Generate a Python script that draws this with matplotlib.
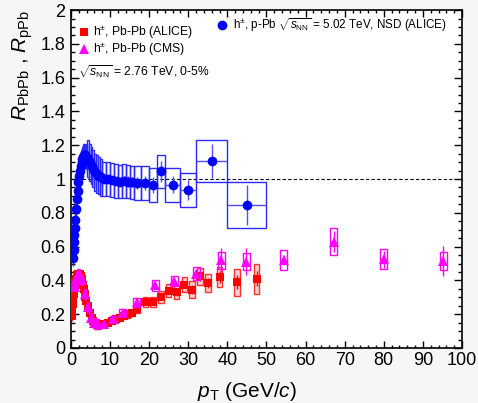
import numpy as np
import matplotlib
matplotlib.use('Agg')
import matplotlib.pyplot as plt
from matplotlib.patches import Rectangle
from matplotlib.ticker import MultipleLocator

plt.rcParams['font.family'] = ['Liberation Sans', 'DejaVu Sans']
plt.rcParams['mathtext.fontset'] = 'custom'
plt.rcParams['mathtext.rm'] = 'Liberation Sans'
plt.rcParams['mathtext.it'] = 'Liberation Sans:italic'
plt.rcParams['mathtext.bf'] = 'Liberation Sans:bold'

# p-Pb, ALICE (NSD)
ppb_lo = [0.5, 0.6, 0.7, 0.8, 0.9, 1.0, 1.2, 1.4, 1.6, 1.8, 2.0, 2.2, 2.4, 2.6, 2.8, 3.0, 3.2, 3.4, 3.6, 3.8,
          4.0, 4.5, 5.0, 5.5, 6.0, 6.5, 7.0, 7.5, 8, 9, 10, 11, 12, 13, 14, 15, 16, 18, 20, 22, 24, 28, 32, 40]
ppb_hi = [0.6, 0.7, 0.8, 0.9, 1.0, 1.2, 1.4, 1.6, 1.8, 2.0, 2.2, 2.4, 2.6, 2.8, 3.0, 3.2, 3.4, 3.6, 3.8, 4.0,
          4.5, 5.0, 5.5, 6.0, 6.5, 7.0, 7.5, 8.0, 9, 10, 11, 12, 13, 14, 15, 16, 18, 20, 22, 24, 28, 32, 40, 50]
ppb_r = [0.53, 0.58, 0.63, 0.67, 0.71, 0.76, 0.82, 0.88, 0.93, 0.98, 1.02, 1.05, 1.08, 1.10, 1.12, 1.13, 1.14,
         1.14, 1.14, 1.13, 1.12, 1.10, 1.08, 1.06, 1.04, 1.03, 1.02, 1.01, 1.00, 1.00, 0.995, 0.99, 0.985,
         0.99, 0.985, 0.98, 0.975, 0.975, 0.965, 1.045, 0.965, 0.935, 1.107, 0.846]
ppb_stat = [0.005] * 20 + [0.01] * 8 + [0.015, 0.015, 0.02, 0.02, 0.025, 0.025, 0.03, 0.03,
                                       0.035, 0.04, 0.045, 0.06, 0.05, 0.06, 0.10, 0.12]
ppb_sys = [0.045] * 5 + [0.07] * 15 + [0.11] * 8 + [0.10] * 12 + [0.10, 0.10, 0.125, 0.135]

# Pb-Pb 0-5%, ALICE
pbpb_pt = [0.175, 0.225, 0.275, 0.325, 0.375, 0.425, 0.475, 0.525, 0.575, 0.625, 0.675, 0.725, 0.775,
           0.825, 0.875, 0.925, 0.975, 1.05, 1.15, 1.25, 1.35, 1.45, 1.55, 1.65, 1.75, 1.85, 1.95, 2.1,
           2.3, 2.5, 2.7, 2.9, 3.1, 3.3, 3.5, 3.7, 3.9, 4.25, 4.75, 5.25, 5.75, 6.25, 6.75, 7.5, 8.5,
           9.5, 10.5, 11.5, 12.5, 13.5, 14.5, 15.5, 17, 19, 21, 23, 25, 27, 29, 31, 33, 35, 38, 42.5, 47.5]
pbpb_r = [0.19, 0.21, 0.22, 0.24, 0.25, 0.26, 0.28, 0.29, 0.30, 0.31, 0.32, 0.33, 0.34, 0.35, 0.355,
          0.36, 0.37, 0.38, 0.39, 0.40, 0.41, 0.42, 0.425, 0.43, 0.435, 0.437, 0.44, 0.44, 0.435, 0.425,
          0.41, 0.39, 0.37, 0.35, 0.32, 0.30, 0.28, 0.25, 0.21, 0.18, 0.16, 0.145, 0.14, 0.135, 0.14,
          0.15, 0.16, 0.17, 0.18, 0.19, 0.20, 0.21, 0.23, 0.27, 0.27, 0.30, 0.34, 0.33, 0.375, 0.345,
          0.425, 0.385, 0.42, 0.39, 0.41]
pbpb_stat = [0.003] * 43 + [0.005] * 9 + [0.008, 0.01, 0.012, 0.015, 0.018, 0.02, 0.02, 0.025,
                                         0.03, 0.03, 0.035, 0.04, 0.045]
pbpb_sys = [0.03] * 43 + [0.02] * 9 + [0.025, 0.03, 0.03, 0.035, 0.04, 0.04, 0.045, 0.05,
                                      0.05, 0.055, 0.06, 0.08, 0.09]

# Pb-Pb 0-5%, CMS
cms_pt = [1.05, 1.15, 1.3, 1.5, 1.7, 1.9, 2.1, 2.3, 2.8, 3.6, 4.4, 5.2, 6.0, 6.8, 8.4, 10.8, 13.2,
          16.8, 21.6, 26.4, 32.0, 38.4, 44.8, 54.4, 67.2, 80.0, 95.2]
cms_r = [0.36, 0.38, 0.40, 0.42, 0.43, 0.44, 0.44, 0.43, 0.40, 0.32, 0.24, 0.18, 0.15, 0.14, 0.14,
         0.17, 0.21, 0.27, 0.37, 0.395, 0.44, 0.52, 0.51, 0.52, 0.63, 0.525, 0.515]
cms_stat = [0.003] * 14 + [0.005, 0.006, 0.008, 0.01, 0.015, 0.02, 0.03, 0.07, 0.08, 0.03, 0.06,
                           0.05, 0.09]
cms_sys = [0.03] * 14 + [0.015, 0.017, 0.02, 0.025, 0.035, 0.03, 0.04, 0.05, 0.05, 0.06, 0.08,
                         0.06, 0.055]

BLUE, RED, MAG = '#0000ff', '#ff0000', '#ff00ff'

fig = plt.figure(figsize=(4.78, 4.03), dpi=100, facecolor='#f6f6f6')
ax = fig.add_axes([0.1485, 0.1365, 0.8180, 0.8385])
ax.set_facecolor('white')

ax.axhline(1.0, color='black', ls=(0, (3, 2)), lw=0.8, zorder=1)


def sys_boxes(x, y, half, sys, color, fill=None, z=2):
    for xi, yi, hw, s in zip(x, y, half, sys):
        ax.add_patch(Rectangle((xi - hw, yi - s), 2 * hw, 2 * s, fill=fill is not None,
                               facecolor=fill if fill else 'none', edgecolor=color,
                               lw=1.0, zorder=z))


# ALICE Pb-Pb
pbpb_half = [0.025 if p < 1 else 0.05 if p < 2 else 0.1 if p < 4 else 0.25 if p < 8 else 0.5 if p < 16 else 0.7
             for p in pbpb_pt]
sys_boxes(pbpb_pt, pbpb_r, pbpb_half, pbpb_sys, '#ff3030', fill='#ffd0d0', z=2)
ax.errorbar(pbpb_pt, pbpb_r, yerr=pbpb_stat, fmt='s', color=RED, ms=5.5, mew=0,
            elinewidth=1, capsize=1.5, zorder=3)

# CMS Pb-Pb
cms_half = [0.05 if p < 2.4 else 0.3 if p < 9 else 0.9 for p in cms_pt]
sys_boxes(cms_pt, cms_r, cms_half, cms_sys, MAG, z=4)
ax.errorbar(cms_pt, cms_r, yerr=cms_stat, fmt='^', color=MAG, ms=6.5, mew=0,
            elinewidth=1, capsize=2, zorder=5)

# ALICE p-Pb
ppb_pt = [(a + b) / 2 for a, b in zip(ppb_lo, ppb_hi)]
ppb_half = [(b - a) / 2 for a, b in zip(ppb_lo, ppb_hi)]
sys_boxes(ppb_pt, ppb_r, ppb_half, ppb_sys, '#2a2aff', z=6)
ax.errorbar(ppb_pt, ppb_r, xerr=ppb_half, yerr=ppb_stat, fmt='o', color=BLUE, ms=7, mew=0,
            elinewidth=1, ecolor='#5050ff', capsize=0, zorder=7)

ax.set_xlim(0, 100)
ax.set_ylim(0, 2)
ax.xaxis.set_major_locator(MultipleLocator(10))
ax.xaxis.set_minor_locator(MultipleLocator(2))
ax.yaxis.set_minor_locator(MultipleLocator(0.05))
ax.set_yticks(np.arange(0, 2.01, 0.2))
ax.set_yticklabels(['0', '0.2', '0.4', '0.6', '0.8', '1', '1.2', '1.4', '1.6', '1.8', '2'])
ax.tick_params(which='both', direction='in', top=True, right=True, labelsize=13, width=1)
ax.tick_params(axis='y', which='major', length=6, pad=4)
ax.tick_params(axis='y', which='minor', length=3)
ax.tick_params(axis='x', which='major', length=5, pad=3)
ax.tick_params(axis='x', which='minor', length=2.5)
for s in ax.spines.values():
    s.set_linewidth(1.2)

fig.text(0.412, 0.015, r'$p_{\rm T}$ (GeV/$c$)', fontsize=15, ha='left', va='baseline')
fig.text(0.048, 0.975, r'$R_{\rm PbPb}$ , $R_{\rm pPb}$', fontsize=15, rotation=90,
         ha='center', va='top')

# legend entries
lfs = 8.7
ax.plot([0.033], [0.935], 's', color=RED, ms=5.5, mew=0, transform=ax.transAxes, clip_on=False)
ax.text(0.056, 0.935, r'h$^{\pm}$, Pb-Pb (ALICE)', fontsize=lfs, transform=ax.transAxes, va='center')
ax.plot([0.033], [0.885], '^', color=MAG, ms=6.5, mew=0, transform=ax.transAxes, clip_on=False)
ax.text(0.056, 0.885, r'h$^{\pm}$, Pb-Pb (CMS)', fontsize=lfs, transform=ax.transAxes, va='center')
ax.text(0.018, 0.817, r'$\sqrt{s_{\rm NN}}$ = 2.76 TeV, 0-5%', fontsize=lfs,
        transform=ax.transAxes, va='center')
ax.plot([0.386], [0.956], 'o', color=BLUE, ms=7, mew=0, transform=ax.transAxes, clip_on=False)
ax.text(0.414, 0.956, r'h$^{\pm}$, p-Pb $\sqrt{s_{\rm NN}}$ = 5.02 TeV, NSD (ALICE)', fontsize=8.4,
        transform=ax.transAxes, va='center')

fig.savefig('out.png', dpi=100, facecolor=fig.get_facecolor())
